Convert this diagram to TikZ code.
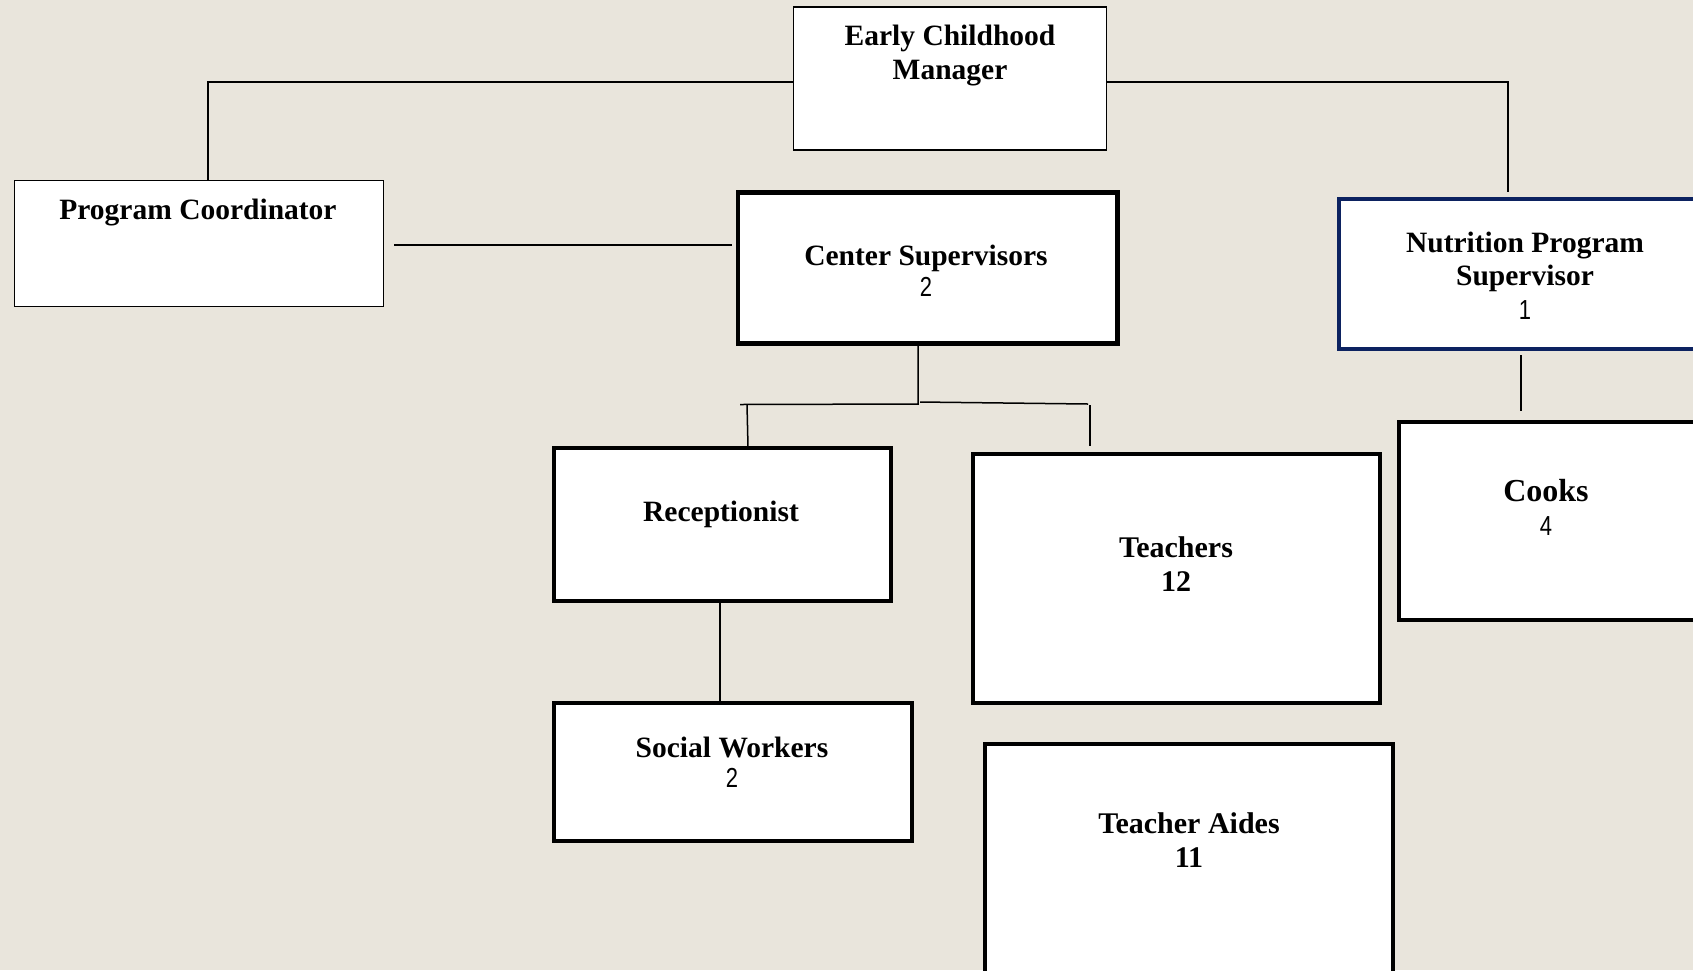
\documentclass[tikz,border=0pt]{standalone}
\usepackage{fontspec}
\setmainfont{Liberation Serif}
\newfontfamily\narrowsans[FakeStretch=0.8]{Liberation Sans}
\definecolor{bg}{RGB}{233,229,220}
\definecolor{navy}{RGB}{12,34,96}
\tikzset{
 thinbox/.style={draw=black,line width=1.6pt,fill=white,inner sep=0pt,outer sep=0pt},
 thickbox/.style={draw=black,line width=4.5pt,fill=white,inner sep=0pt,outer sep=0pt},
 navybox/.style={draw=navy,line width=4.5pt,fill=white,inner sep=0pt,outer sep=0pt},
 title/.style={font=\fontsize{29.5}{33}\selectfont\bfseries,anchor=base,inner sep=0pt},
 bigtitle/.style={font=\fontsize{30}{34}\selectfont\bfseries,anchor=base,inner sep=0pt},
 num/.style={font=\narrowsans\fontsize{27.5}{31}\selectfont,anchor=base,inner sep=0pt},
 link/.style={draw=black,line width=1.5pt}
}
\begin{document}
\begin{tikzpicture}[x=1pt,y=-1pt]
\fill[bg] (0,0) rectangle (1693,970);
\useasboundingbox (0,0) rectangle (1693,970);
\clip (0,0) rectangle (1693,970);

% boxes
\node[thinbox,minimum width=313pt,minimum height=143pt] (mgr) at (950,78.5) {};
\node[thinbox,minimum width=369pt,minimum height=126pt] (pc) at (199,243.5) {};
\node[thickbox,minimum width=379.5pt,minimum height=151pt] (cs) at (927.5,268) {};
\node[navybox,minimum width=381pt,minimum height=150pt] (nps) at (1529.5,274) {};
\node[thickbox,minimum width=337pt,minimum height=153pt] (rec) at (722.5,524.5) {};
\node[thickbox,minimum width=407pt,minimum height=249pt] (tea) at (1176.5,578.5) {};
\node[thickbox,minimum width=322pt,minimum height=198pt] (cooks) at (1560,521) {};
\node[thickbox,minimum width=358pt,minimum height=138pt] (sw) at (733,772) {};
\node[thickbox,minimum width=408pt,minimum height=256pt] (ta) at (1189,872) {};

% texts
\node[title] (mgr-t1) at (950,45) {Early Childhood};
\node[title] (mgr-t2) at (950,79) {Manager};
\node[title] (pc-t) at (198,219) {Program Coordinator};
\node[title] (cs-t1) at (926,265) {Center Supervisors};
\node[num] (cs-t2) at (926,296) {2};
\node[title] (nps-t1) at (1525,252) {Nutrition Program};
\node[title] (nps-t2) at (1525,285) {Supervisor};
\node[num] (nps-t3) at (1525,319) {1};
\node[title] (rec-t) at (721,521) {Receptionist};
\node[bigtitle] (tea-t1) at (1176,557) {Teachers};
\node[bigtitle] (tea-t2) at (1176,591) {12};
\node[font=\fontsize{32}{36}\selectfont\bfseries,anchor=base,inner sep=0pt] (cooks-t1) at (1546,501) {Cooks};
\node[num] (cooks-t2) at (1546,535) {4};
\node[title] (sw-t1) at (732,757) {Social Workers};
\node[num] (sw-t2) at (732,787) {2};
\node[bigtitle] (ta-t1) at (1189,833) {Teacher Aides};
\node[bigtitle] (ta-t2) at (1189,867) {11};

% connector points
\coordinate (pcv) at (208,82);
\coordinate (nph) at (1508,82);
\coordinate (npe) at (1508,192);
\coordinate (pcx) at (394,245);
\coordinate (csx) at (732,245);
\coordinate (j) at (918,404);
\coordinate (jl) at (740,404.5);
\coordinate (rl) at (747,404.5);
\coordinate (rb) at (748,447);
\coordinate (jr0) at (920,402);
\coordinate (jr) at (1088,404);
\coordinate (tt) at (1090,405);
\coordinate (tb) at (1090,446);
\coordinate (rs) at (720,0);
\coordinate (n1) at (1521,355);
\coordinate (n2) at (1521,411);

% connectors
\draw[link] (mgr.west |- pcv) -- (pcv) -- (pc.north -| pcv);
\draw[link] (mgr.east |- nph) -- (nph) -- (npe);
\draw[link] (pcx) -- (csx);
\draw[link] (cs.south -| j) -- (j) -- (jl);
\draw[link] (rl) -- (rb);
\draw[link] (jr0) -- (jr);
\draw[link] (tt) -- (tb);
\draw[link] (rec.south -| rs) -- (sw.north -| rs);
\draw[link] (n1) -- (n2);
\end{tikzpicture}
\end{document}
